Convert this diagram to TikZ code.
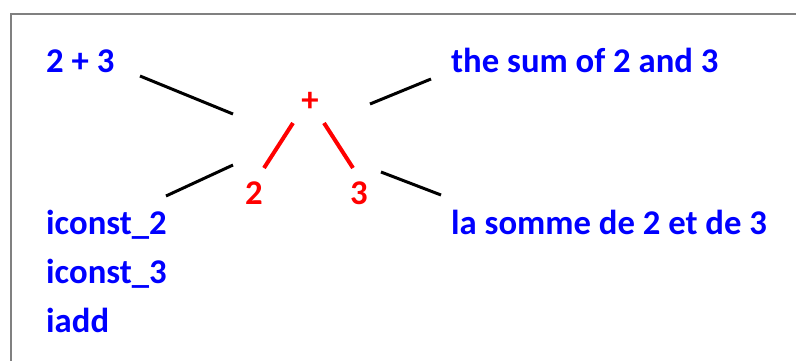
\documentclass[tikz,border=0pt]{standalone}
\usepackage{fontspec}
\setmainfont{Carlito}
\definecolor{txtblue}{RGB}{0,0,255}
\definecolor{txtred}{RGB}{255,0,0}
\definecolor{framegray}{RGB}{128,128,128}
\begin{document}
\begin{tikzpicture}[x=1pt,y=-1pt,
  lbl/.style={anchor=base west,inner sep=0pt,text=txtblue,font=\fontsize{34.7}{40}\selectfont\bfseries},
  tok/.style={anchor=base,inner sep=0pt,text=txtred,font=\fontsize{34.7}{40}\selectfont\bfseries},
  blk/.style={draw=black,line width=3pt},
  redl/.style={draw=txtred,line width=4pt}]
\useasboundingbox (0,0) rectangle (796,360);
\begin{scope}
\clip (0,0) rectangle (796,360);
\draw[framegray,line width=2.5pt] (11,14) rectangle (820,380);
\end{scope}
% texts
\node[lbl] (expr) at (46,72) {2 + 3};
\node[lbl] (sum) at (451,72) {the sum of 2 and 3};
\node[lbl] (ic2) at (46,234) {iconst\_2};
\node[lbl] (ic3) at (46,283) {iconst\_3};
\node[lbl] (iadd) at (46,332) {iadd};
\node[lbl] (somme) at (451,234) {la somme de 2 et de 3};
% tree
\node[tok] (plus) at (310,111) {+};
\node[tok] (two) at (254,204) {2};
\node[tok] (three) at (359,204) {3};
% endpoints
\coordinate (a1) at (140,76);  \coordinate (a2) at (233,114);
\coordinate (b1) at (370,104); \coordinate (b2) at (431,79);
\coordinate (c1) at (166,196); \coordinate (c2) at (233,165);
\coordinate (d1) at (381,172); \coordinate (d2) at (441,195);
\coordinate (r1a) at (293,123); \coordinate (r1b) at (264,168);
\coordinate (r2a) at (324,123); \coordinate (r2b) at (353,168);
\draw[blk] (a1) -- (a2);
\draw[blk] (b1) -- (b2);
\draw[blk] (c1) -- (c2);
\draw[blk] (d1) -- (d2);
\draw[redl] (r1a) -- (r1b);
\draw[redl] (r2a) -- (r2b);
\end{tikzpicture}
\end{document}
